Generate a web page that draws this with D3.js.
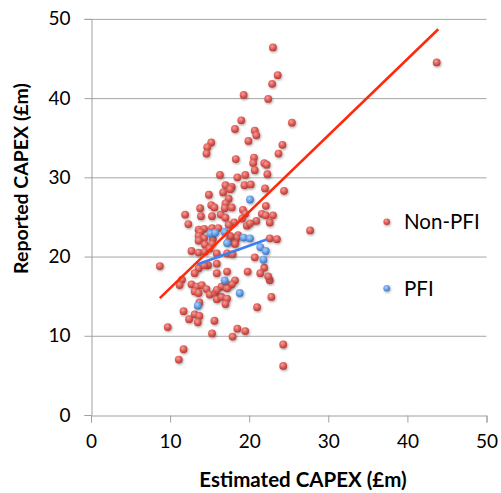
<!DOCTYPE html>
<html><head><meta charset="utf-8">
<script src="https://cdn.jsdelivr.net/npm/d3@7"></script>
<style>body{margin:0;background:#fff}svg{display:block}</style>
</head><body>
<script>
const nonPfi = [[23.0,46.4],[23.6,42.9],[22.9,41.8],[19.3,40.4],[22.4,39.9],[19.0,37.2],[18.2,36.1],[25.4,36.9],[20.7,35.9],[20.9,35.3],[19.9,34.6],[15.2,34.4],[14.7,33.8],[14.6,33.0],[24.2,34.1],[23.7,33.0],[18.3,32.3],[20.6,32.5],[20.5,31.8],[21.9,31.8],[22.2,31.6],[20.7,30.9],[16.3,30.3],[18.5,30.0],[19.5,30.3],[22.3,30.4],[17.0,29.0],[17.8,28.8],[19.4,29.0],[20.2,29.1],[22.0,28.6],[24.4,28.3],[16.7,28.1],[17.6,28.5],[14.9,27.8],[17.4,27.3],[17.0,26.7],[15.2,26.5],[15.6,26.2],[13.8,26.1],[16.9,26.1],[17.8,26.2],[19.2,25.9],[22.1,26.4],[11.9,25.3],[12.3,24.1],[13.9,25.1],[15.3,25.1],[16.4,25.3],[17.0,24.9],[19.5,25.4],[21.6,25.4],[22.1,25.2],[23.0,25.2],[19.1,24.8],[20.9,24.5],[18.1,24.3],[17.4,24.0],[19.7,23.9],[20.1,24.2],[22.6,24.3],[13.6,23.4],[14.3,23.5],[15.3,23.6],[16.1,23.6],[13.8,23.1],[13.6,22.6],[14.3,22.3],[15.4,22.2],[13.6,22.0],[18.6,22.7],[22.6,22.3],[23.5,22.2],[27.7,23.3],[14.4,21.5],[15.3,21.6],[12.7,20.7],[13.6,20.5],[14.4,20.6],[15.0,21.0],[15.9,20.4],[17.4,21.9],[18.2,21.9],[20.7,19.9],[8.7,18.8],[13.6,18.5],[13.1,17.9],[14.8,18.9],[15.9,19.1],[15.9,17.9],[17.2,18.1],[19.8,18.1],[21.9,18.6],[21.4,17.9],[18.2,17.0],[17.4,16.4],[17.8,16.5],[22.6,17.0],[11.5,17.1],[11.2,16.4],[12.7,16.5],[13.4,16.2],[14.0,16.4],[13.1,15.6],[13.6,15.4],[14.6,15.9],[15.0,15.2],[15.7,15.4],[15.9,14.6],[16.5,14.9],[17.2,14.7],[22.8,14.9],[17.0,14.0],[13.7,14.2],[21.0,13.6],[11.7,13.1],[13.1,12.7],[13.7,12.5],[12.4,12.1],[13.5,11.7],[15.6,11.9],[9.7,11.1],[18.5,10.9],[19.5,10.6],[15.3,10.3],[17.9,9.9],[11.7,8.3],[11.1,7.0],[24.3,8.9],[24.3,6.2],[43.7,44.5],[16.5,16.2],[17.2,16.0],[15.9,15.8],[22.4,17.5],[14.3,18.9],[17.2,20.4],[17.9,20.3],[18.4,22.4],[18.2,21.6],[17.6,22.6]];
const pfi = [[20.1,27.2],[15.1,22.9],[15.7,23.0],[16.9,23.1],[19.3,22.4],[20.1,22.3],[17.2,21.7],[21.4,21.2],[22.1,20.7],[21.8,19.6],[16.9,17.0],[18.8,15.4],[13.5,13.8]];
const nonPfiTrend = [[8.7,14.75],[43.9,48.7]];
const pfiTrend = [[13.4,19.0],[22.2,22.15]];
const xTicks = [0,10,20,30,40,50];
const yTicks = [0,10,20,30,40,50];
const seriesNames = ["Non-PFI","PFI"];

const W=501,H=493;
const svg=d3.select("body").append("svg").attr("width",W).attr("height",H);
const x=d3.scaleLinear().domain([0,50]).range([91,486.5]);
const y=d3.scaleLinear().domain([0,50]).range([415,18.9]);
const font="Lato, 'Open Sans', sans-serif";

const defs=svg.append("defs");
function grad(id,light,base,dark){
  const g=defs.append("radialGradient").attr("id",id).attr("cx","40%").attr("cy","35%").attr("r","65%");
  g.append("stop").attr("offset","0%").attr("stop-color",light);
  g.append("stop").attr("offset","55%").attr("stop-color",base);
  g.append("stop").attr("offset","100%").attr("stop-color",dark);
}
grad("gRed","#f4a09c","#de5d57","#b53d38");
grad("gBlue","#b0d0f6","#6aa0e6","#3c75c2");
const f=defs.append("filter").attr("id","sh").attr("x","-50%").attr("y","-50%").attr("width","200%").attr("height","200%");
f.append("feDropShadow").attr("dx",0.8).attr("dy",1.2).attr("stdDeviation",0.9).attr("flood-color","#000").attr("flood-opacity",0.35);

// gridlines
svg.append("g").selectAll("line").data(yTicks.filter(d=>d>0)).join("line")
  .attr("x1",x(0)).attr("x2",x(50)).attr("y1",d=>y(d)+0.5).attr("y2",d=>y(d)+0.5)
  .attr("stroke","#a6a6a6").attr("stroke-width",1);

// axes
const xAxis=d3.axisBottom(x).tickValues(xTicks).tickSize(7).tickPadding(12);
const gx=svg.append("g").attr("transform",`translate(0,${y(0)+0.5})`).call(xAxis);
gx.select(".domain").attr("stroke","#a0a0a0");
gx.selectAll(".tick line").attr("stroke","#a0a0a0");
gx.selectAll("text").attr("font-family",font).attr("font-size",19).attr("fill","#000");

const yAxis=d3.axisLeft(y).tickValues(yTicks).tickSize(7).tickPadding(14);
const gy=svg.append("g").attr("transform",`translate(${x(0)+0.5},0)`).call(yAxis);
gy.select(".domain").attr("stroke","#a0a0a0");
gy.selectAll(".tick line").attr("stroke","#a0a0a0");
gy.selectAll("text").attr("font-family",font).attr("font-size",19).attr("fill","#000");

// points
svg.append("g").selectAll("circle").data(nonPfi).join("circle")
  .attr("cx",d=>x(d[0])).attr("cy",d=>y(d[1])).attr("r",3.9)
  .attr("fill","url(#gRed)").attr("filter","url(#sh)");
svg.append("g").selectAll("circle").data(pfi).join("circle")
  .attr("cx",d=>x(d[0])).attr("cy",d=>y(d[1])).attr("r",3.9)
  .attr("fill","url(#gBlue)").attr("filter","url(#sh)");

// trend lines
const line=d3.line().x(d=>x(d[0])).y(d=>y(d[1]));
svg.append("path").attr("d",line(nonPfiTrend)).attr("stroke","#ff2a0a").attr("stroke-width",2.6).attr("fill","none");
svg.append("path").attr("d",line(pfiTrend)).attr("stroke","#3f7ef0").attr("stroke-width",2.8).attr("fill","none");

// legend
const leg=[{n:seriesNames[0],g:"gRed",cy:221.7},{n:seriesNames[1],g:"gBlue",cy:288.3}];
const lg=svg.append("g").selectAll("g").data(leg).join("g");
lg.append("circle").attr("cx",386.7).attr("cy",d=>d.cy).attr("r",3.3).attr("fill",d=>`url(#${d.g})`).attr("filter","url(#sh)");
lg.append("text").attr("x",404).attr("y",d=>d.cy+7.5).text(d=>d.n)
  .attr("font-family",font).attr("font-size",20.5).attr("fill","#000");

// titles
svg.append("text").attr("x",303).attr("y",487).attr("text-anchor","middle")
  .attr("font-family",font).attr("font-weight","bold").attr("font-size",20.5).text("Estimated CAPEX (£m)");
svg.append("text").attr("transform","translate(27.5,178.5) rotate(-90)").attr("text-anchor","middle")
  .attr("font-family",font).attr("font-weight","bold").attr("font-size",19.5).text("Reported CAPEX (£m)");
</script>
</body></html>
